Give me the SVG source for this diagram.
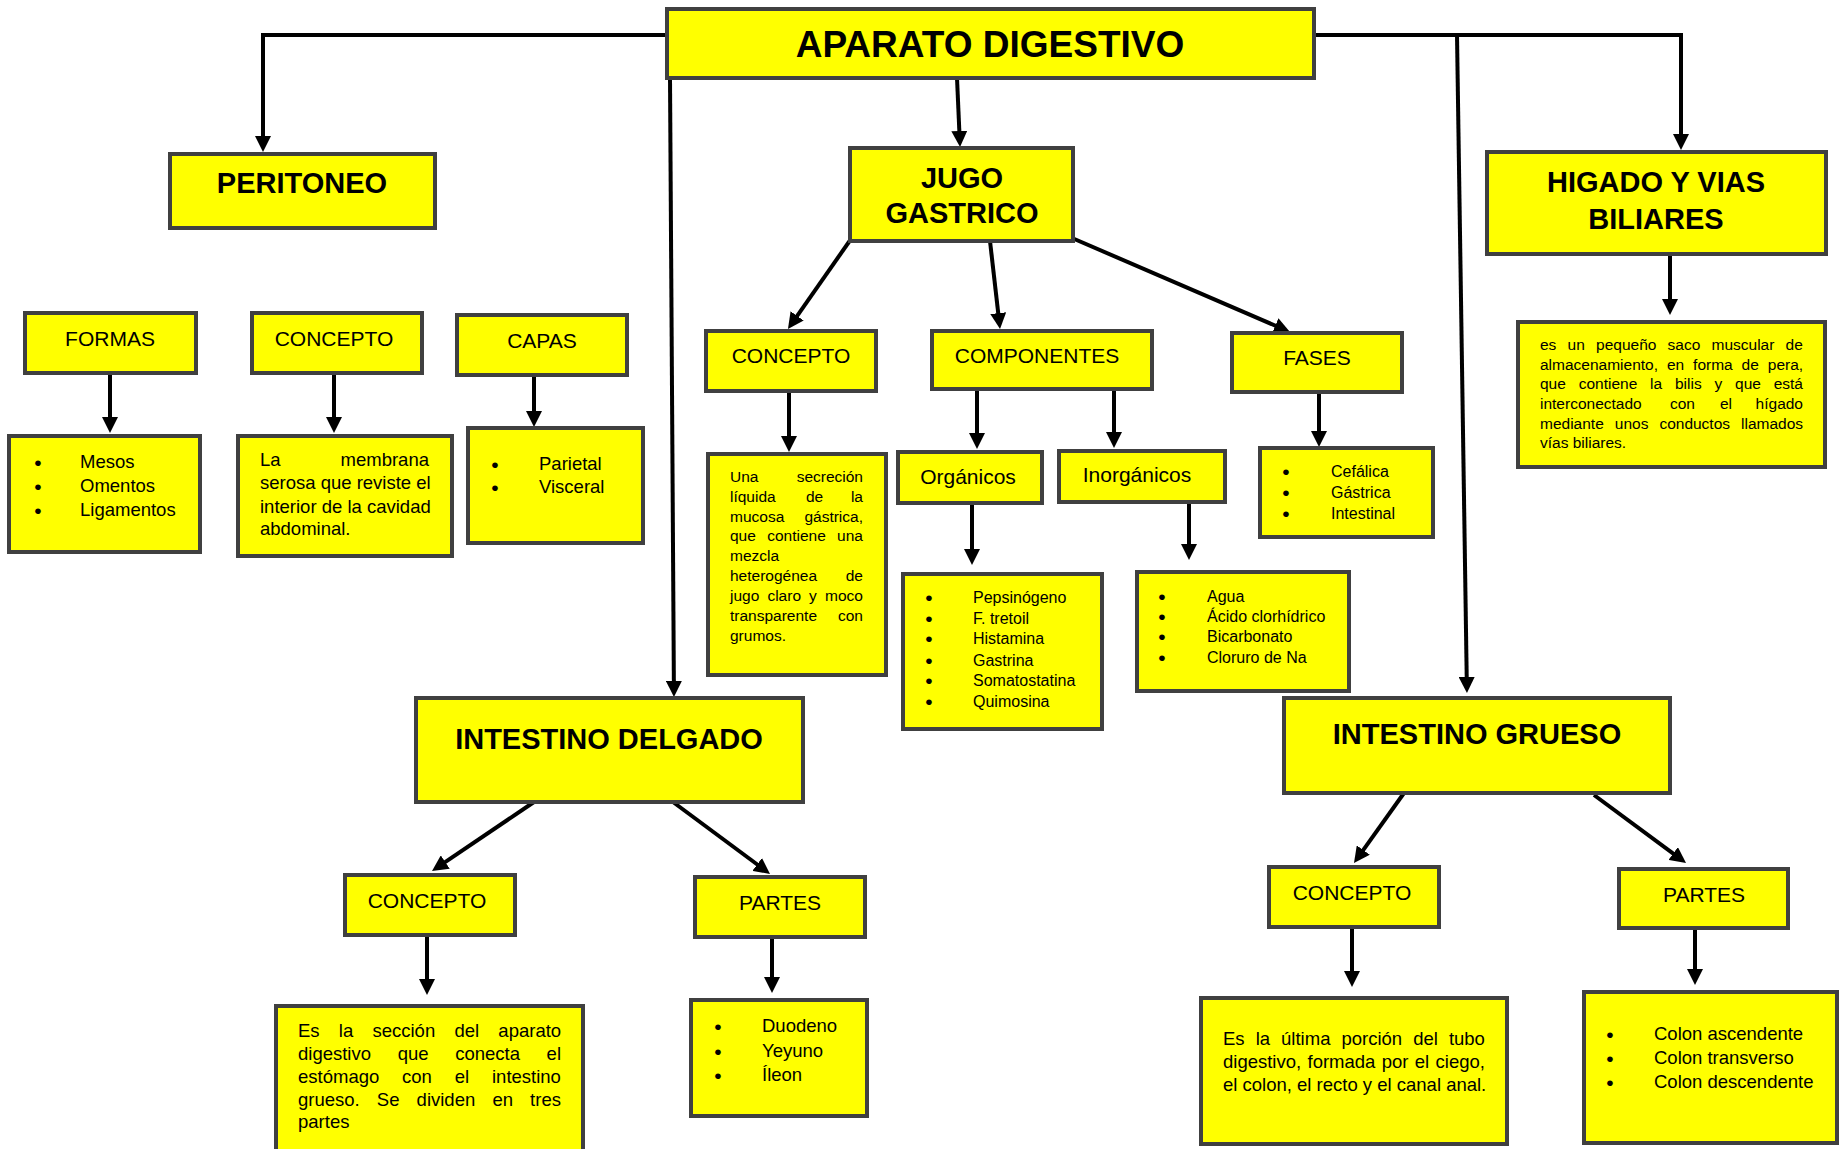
<svg xmlns="http://www.w3.org/2000/svg" width="1843" height="1149" viewBox="0 0 1843 1149">
<style>
.box{fill:#FFFF00;stroke:#404040;stroke-width:4}
text{font-family:"Liberation Sans",Arial,sans-serif;fill:#000}
.title{font-weight:bold;font-size:29px;text-anchor:middle}
.lbl{font-size:21px;text-anchor:middle}
.p18{font-size:18.5px}
.p16{font-size:16px}
.p15{font-size:15.5px}
.e{text-anchor:end}
.m{text-anchor:middle;font-size:21px}
.conn{stroke:#000;stroke-width:4;fill:none;marker-end:url(#ah)}
</style>
<defs>
<marker id="ah" markerUnits="userSpaceOnUse" markerWidth="16" markerHeight="16" refX="6" refY="8" orient="auto">
<path d="M0,0 L16,8 L0,16 z" fill="#000"/>
</marker>
</defs>
<rect width="1843" height="1149" fill="#fff"/>
<g id="connectors">
<polyline class="conn" points="667,35 263,35 263,142"/>
<polyline class="conn" points="1314,35 1681,35 1681,140"/>
<line class="conn" x1="670" y1="78" x2="673.9" y2="687"/>
<line class="conn" x1="1457" y1="35" x2="1466.8" y2="683"/>
<line class="conn" x1="957" y1="78" x2="959.6" y2="137"/>
<line class="conn" x1="851" y1="239" x2="793.7" y2="320.8"/>
<line class="conn" x1="990" y1="241" x2="998.9" y2="319.1"/>
<line class="conn" x1="1072" y1="238" x2="1280.8" y2="328"/>
<line class="conn" x1="110" y1="373" x2="110" y2="423"/>
<line class="conn" x1="334" y1="373" x2="334" y2="423"/>
<line class="conn" x1="534" y1="375" x2="534" y2="417"/>
<line class="conn" x1="789" y1="391" x2="789" y2="442"/>
<line class="conn" x1="977" y1="389" x2="977" y2="439"/>
<line class="conn" x1="1114" y1="389" x2="1114" y2="438"/>
<line class="conn" x1="972" y1="503" x2="972" y2="555"/>
<line class="conn" x1="1189" y1="502" x2="1189" y2="550"/>
<line class="conn" x1="1319" y1="392" x2="1319" y2="437"/>
<line class="conn" x1="1670" y1="256" x2="1670" y2="305"/>
<line class="conn" x1="534" y1="802" x2="440.3" y2="865.4"/>
<line class="conn" x1="673" y1="802" x2="762" y2="868"/>
<line class="conn" x1="427" y1="935" x2="427" y2="985"/>
<line class="conn" x1="772" y1="937" x2="772" y2="983"/>
<line class="conn" x1="1404" y1="793" x2="1359.8" y2="854.9"/>
<line class="conn" x1="1594" y1="795" x2="1678" y2="857.1"/>
<line class="conn" x1="1352" y1="927" x2="1352" y2="977"/>
<line class="conn" x1="1695" y1="928" x2="1695" y2="975"/>
</g>
<g id="aparato">
<rect class="box" x="667" y="9" width="647" height="69"/>
<text x="990" y="57" style="font-weight:bold;font-size:37px;text-anchor:middle">APARATO DIGESTIVO</text>
</g>
<g id="peritoneo">
<rect class="box" x="170" y="154" width="265" height="74"/>
<text class="title" x="302" y="193">PERITONEO</text>
</g>
<g id="jugo">
<rect class="box" x="850" y="148" width="223" height="93"/>
<text class="title" x="962" y="188">JUGO</text>
<text class="title" x="962" y="223">GASTRICO</text>
</g>
<g id="higado">
<rect class="box" x="1487" y="152" width="339" height="102"/>
<text class="title" x="1656" y="192">HIGADO Y VIAS</text>
<text class="title" x="1656" y="229">BILIARES</text>
</g>
<g id="higado-texto">
<rect class="box" x="1518" y="322" width="307" height="145"/>
<g class="p15">
<text x="1540" y="350" style="word-spacing:6.9px">es un pequeño saco muscular de</text>
<text x="1540" y="370" style="word-spacing:4.6px">almacenamiento, en forma de pera,</text>
<text x="1540" y="389" style="word-spacing:8.5px">que contiene la bilis y que está</text>
<text y="409"><tspan x="1540">interconectado</tspan><tspan x="1670">con</tspan><tspan x="1720">el</tspan></text>
<text class="e" x="1803" y="409">hígado</text>
<text x="1540" y="429" style="word-spacing:6.7px">mediante unos conductos llamados</text>
<text x="1540" y="448">vías biliares.</text>
</g>
</g>
<g id="formas">
<rect class="box" x="25" y="313" width="171" height="60"/>
<text class="lbl" x="110" y="346">FORMAS</text>
</g>
<g id="formas-lista">
<rect class="box" x="9" y="436" width="191" height="116"/>
<g class="p18">
<text class="m" x="38" y="470">•</text><text x="80" y="468">Mesos</text>
<text class="m" x="38" y="494">•</text><text x="80" y="492">Omentos</text>
<text class="m" x="38" y="518">•</text><text x="80" y="516">Ligamentos</text>
</g>
</g>
<g id="concepto-peritoneo">
<rect class="box" x="252" y="313" width="170" height="60"/>
<text class="lbl" x="334" y="346">CONCEPTO</text>
</g>
<g id="concepto-peritoneo-texto">
<rect class="box" x="238" y="436" width="214" height="120"/>
<g class="p18">
<text x="260" y="466">La</text><text class="e" x="429" y="466">membrana</text>
<text x="260" y="489">serosa que reviste el</text>
<text x="260" y="513">interior de la cavidad</text>
<text x="260" y="535">abdominal.</text>
</g>
</g>
<g id="capas">
<rect class="box" x="457" y="315" width="170" height="60"/>
<text class="lbl" x="542" y="348">CAPAS</text>
</g>
<g id="capas-lista">
<rect class="box" x="468" y="428" width="175" height="115"/>
<g class="p18">
<text class="m" x="495" y="472">•</text><text x="539" y="470">Parietal</text>
<text class="m" x="495" y="495">•</text><text x="539" y="493">Visceral</text>
</g>
</g>
<g id="concepto-jugo">
<rect class="box" x="706" y="331" width="170" height="60"/>
<text class="lbl" x="791" y="363">CONCEPTO</text>
</g>
<g id="concepto-jugo-texto">
<rect class="box" x="708" y="454" width="178" height="221"/>
<g class="p15">
<text x="730" y="482">Una</text><text class="e" x="863" y="482">secreción</text>
<text x="730" y="502">líquida</text><text x="806" y="502">de</text><text class="e" x="863" y="502">la</text>
<text x="730" y="522">mucosa</text><text class="e" x="863" y="522">gástrica,</text>
<text x="730" y="541" style="word-spacing:7px">que contiene una</text>
<text x="730" y="561">mezcla</text>
<text x="730" y="581">heterogénea</text><text class="e" x="863" y="581">de</text>
<text x="730" y="601" style="word-spacing:3.8px">jugo claro y moco</text>
<text x="730" y="621">transparente</text><text class="e" x="863" y="621">con</text>
<text x="730" y="641">grumos.</text>
</g>
</g>
<g id="componentes">
<rect class="box" x="932" y="331" width="220" height="58"/>
<text class="lbl" x="1037" y="363">COMPONENTES</text>
</g>
<g id="organicos">
<rect class="box" x="898" y="452" width="144" height="51"/>
<text class="lbl" x="968" y="484">Orgánicos</text>
</g>
<g id="organicos-lista">
<rect class="box" x="903" y="574" width="199" height="155"/>
<g class="p16">
<text class="m" x="929" y="605">•</text><text x="973" y="603">Pepsinógeno</text>
<text class="m" x="929" y="626">•</text><text x="973" y="624">F. tretoil</text>
<text class="m" x="929" y="646">•</text><text x="973" y="644">Histamina</text>
<text class="m" x="929" y="668">•</text><text x="973" y="666">Gastrina</text>
<text class="m" x="929" y="688">•</text><text x="973" y="686">Somatostatina</text>
<text class="m" x="929" y="709">•</text><text x="973" y="707">Quimosina</text>
</g>
</g>
<g id="inorganicos">
<rect class="box" x="1059" y="451" width="166" height="51"/>
<text class="lbl" x="1137" y="482">Inorgánicos</text>
</g>
<g id="inorganicos-lista">
<rect class="box" x="1137" y="572" width="212" height="119"/>
<g class="p16">
<text class="m" x="1162" y="604">•</text><text x="1207" y="602">Agua</text>
<text class="m" x="1162" y="624">•</text><text x="1207" y="622">Ácido clorhídrico</text>
<text class="m" x="1162" y="644">•</text><text x="1207" y="642">Bicarbonato</text>
<text class="m" x="1162" y="665">•</text><text x="1207" y="663">Cloruro de Na</text>
</g>
</g>
<g id="fases">
<rect class="box" x="1232" y="333" width="170" height="59"/>
<text class="lbl" x="1317" y="365">FASES</text>
</g>
<g id="fases-lista">
<rect class="box" x="1260" y="448" width="173" height="89"/>
<g class="p16">
<text class="m" x="1286" y="479">•</text><text x="1331" y="477">Cefálica</text>
<text class="m" x="1286" y="500">•</text><text x="1331" y="498">Gástrica</text>
<text class="m" x="1286" y="521">•</text><text x="1331" y="519">Intestinal</text>
</g>
</g>
<g id="intestino-delgado">
<rect class="box" x="416" y="698" width="387" height="104"/>
<text class="title" x="609" y="749">INTESTINO DELGADO</text>
</g>
<g id="concepto-delgado">
<rect class="box" x="345" y="875" width="170" height="60"/>
<text class="lbl" x="427" y="908">CONCEPTO</text>
</g>
<g id="concepto-delgado-texto">
<rect class="box" x="276" y="1006" width="307" height="160"/>
<g class="p18">
<text x="298" y="1037" style="word-spacing:14.1px">Es la sección del aparato</text>
<text x="298" y="1060" style="word-spacing:21.5px">digestivo que conecta el</text>
<text x="298" y="1083" style="word-spacing:17.7px">estómago con el intestino</text>
<text x="298" y="1106" style="word-spacing:12px">grueso. Se dividen en tres</text>
<text x="298" y="1128">partes</text>
</g>
</g>
<g id="partes-delgado">
<rect class="box" x="695" y="877" width="170" height="60"/>
<text class="lbl" x="780" y="910">PARTES</text>
</g>
<g id="partes-delgado-lista">
<rect class="box" x="691" y="1000" width="176" height="116"/>
<g class="p18">
<text class="m" x="718" y="1034">•</text><text x="762" y="1032">Duodeno</text>
<text class="m" x="718" y="1059">•</text><text x="762" y="1057">Yeyuno</text>
<text class="m" x="718" y="1083">•</text><text x="762" y="1081">Íleon</text>
</g>
</g>
<g id="intestino-grueso">
<rect class="box" x="1284" y="698" width="386" height="95"/>
<text class="title" x="1477" y="744">INTESTINO GRUESO</text>
</g>
<g id="concepto-grueso">
<rect class="box" x="1269" y="867" width="170" height="60"/>
<text class="lbl" x="1352" y="900">CONCEPTO</text>
</g>
<g id="concepto-grueso-texto">
<rect class="box" x="1201" y="998" width="306" height="146"/>
<g class="p18">
<text x="1223" y="1045" style="word-spacing:5.9px">Es la última porción del tubo</text>
<text x="1223" y="1068" style="word-spacing:1.2px">digestivo, formada por el ciego,</text>
<text x="1223" y="1091">el colon, el recto y el canal anal.</text>
</g>
</g>
<g id="partes-grueso">
<rect class="box" x="1619" y="869" width="169" height="59"/>
<text class="lbl" x="1704" y="902">PARTES</text>
</g>
<g id="partes-grueso-lista">
<rect class="box" x="1584" y="992" width="253" height="151"/>
<g class="p18">
<text class="m" x="1610" y="1042">•</text><text x="1654" y="1040">Colon ascendente</text>
<text class="m" x="1610" y="1066">•</text><text x="1654" y="1064">Colon transverso</text>
<text class="m" x="1610" y="1090">•</text><text x="1654" y="1088">Colon descendente</text>
</g>
</g>
</svg>
